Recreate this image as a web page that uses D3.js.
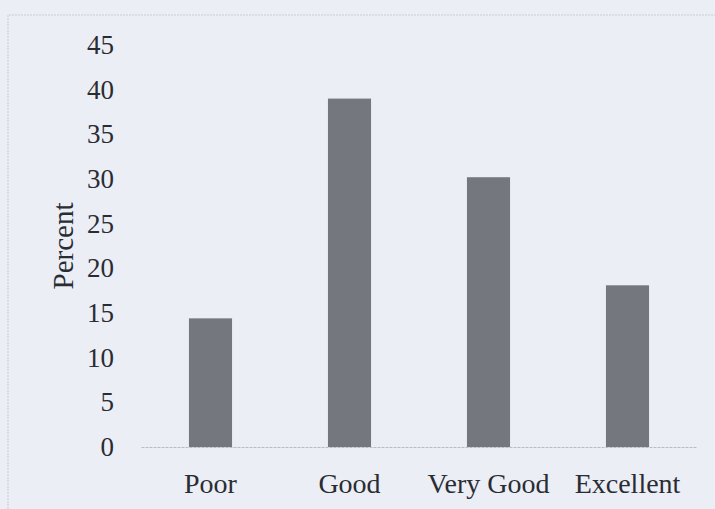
<!DOCTYPE html>
<html>
<head>
<script src="https://d3js.org/d3.v7.min.js"></script>
<style>
  body { margin: 0; background: #eceef5; }
  svg { display: block; }
  .tick text { font-family: "Liberation Serif", "Times New Roman", serif; fill: #2a2c33; }
</style>
</head>
<body>
<script>
var categories = ["Poor", "Good", "Very Good", "Excellent"];
var percent = [14.4, 39.0, 30.2, 18.1];
var yTicks = [0, 5, 10, 15, 20, 25, 30, 35, 40, 45];

var width = 715, height = 509;
var margin = {top: 45, right: 18, bottom: 62, left: 141};

var svg = d3.select("body").append("svg")
  .attr("width", width)
  .attr("height", height);

svg.append("rect")
  .attr("width", width).attr("height", height)
  .attr("fill", "#eceef5");

// faint frame of the scanned chart
svg.append("path")
  .attr("d", "M8," + height + "V15H" + width)
  .attr("fill", "none")
  .attr("stroke", "#c9ccd6")
  .attr("stroke-width", 1)
  .attr("stroke-dasharray", "2,1");

var x = d3.scaleBand()
  .domain(categories)
  .range([margin.left, width - margin.right])
  .paddingInner(0.69)
  .paddingOuter(0.345);

var y = d3.scaleLinear()
  .domain([0, 45])
  .range([height - margin.bottom, margin.top]);

// bars
svg.selectAll("rect.bar")
  .data(categories)
  .enter().append("rect")
  .attr("class", "bar")
  .attr("x", function(d) { return x(d); })
  .attr("y", function(d, i) { return y(percent[i]); })
  .attr("width", x.bandwidth())
  .attr("height", function(d, i) { return y(0) - y(percent[i]); })
  .attr("fill", "#75777e");

// x axis
var xAxis = svg.append("g")
  .attr("transform", "translate(0," + y(0) + ")")
  .call(d3.axisBottom(x).tickSize(0).tickPadding(26));
xAxis.select(".domain")
  .attr("stroke", "#b9bcc6")
  .attr("stroke-dasharray", "3,1");
xAxis.selectAll("text").style("font-size", "28px");

// y axis
var yAxis = svg.append("g")
  .attr("transform", "translate(" + 114 + ",0)")
  .call(d3.axisLeft(y).tickValues(yTicks).tickSize(0).tickPadding(0));
yAxis.select(".domain").remove();
yAxis.selectAll("text").style("font-size", "27px");

// y title
svg.append("text")
  .attr("transform", "translate(73," + 246 + ") rotate(-90)")
  .attr("text-anchor", "middle")
  .style("font-family", "'Liberation Serif', 'Times New Roman', serif")
  .style("font-size", "29px")
  .attr("fill", "#2a2c33")
  .text("Percent");
</script>
</body>
</html>
